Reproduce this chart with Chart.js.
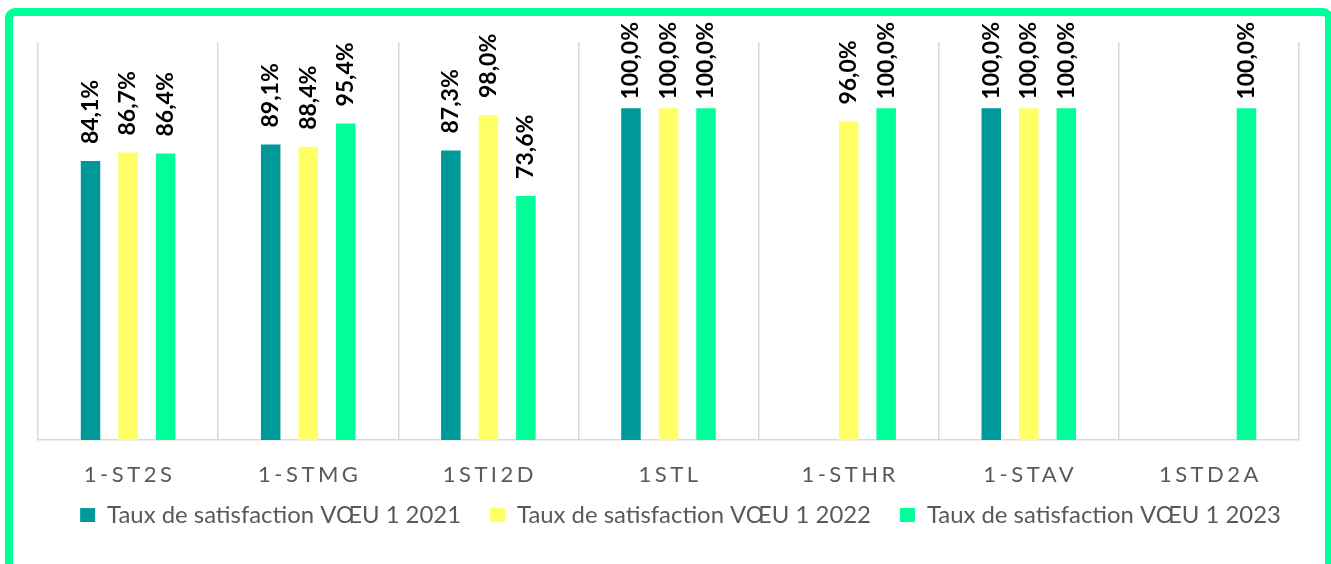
<!DOCTYPE html>
<html>
<head>
<meta charset="utf-8">
<script src="https://cdn.jsdelivr.net/npm/chart.js@4.4.1/dist/chart.umd.min.js"></script>
<style>
  html, body { margin: 0; padding: 0; background: #fff; overflow: hidden; }
  #wrap { width: 1331px; height: 564px; }
</style>
</head>
<body>
<div id="wrap"><canvas id="satChart" width="1331" height="564"></canvas></div>
<script>
// categories + series (percent)
var filieres = ['1-ST2S', '1-STMG', '1STI2D', '1STL', '1-STHR', '1-STAV', '1STD2A'];
var taux2021 = [84.1, 89.1, 87.3, 100, null, 100, null];
var taux2022 = [86.7, 88.4, 98.0, 100, 96.0, 100, null];
var taux2023 = [86.4, 95.4, 73.6, 100, 100, 100, 100];
var serieNames = ['Taux de satisfaction VŒU 1 2021', 'Taux de satisfaction VŒU 1 2022', 'Taux de satisfaction VŒU 1 2023'];
var serieColors = ['#009999', '#FFFF66', '#00FF99'];

var greyTxt = '#595959';

// size legend font so the text is ~354px wide like the original
var mctx = document.createElement('canvas').getContext('2d');
mctx.font = '100px Lato';
var legendSize = Math.round(100 * 354 / mctx.measureText(serieNames[0]).width * 10) / 10;

function fmt(v) {
  return v.toFixed(1).replace('.', ',') + '%';
}

var frame = {
  id: 'frame',
  beforeDraw: function(chart) {
    var c = chart.ctx;
    c.save();
    c.fillStyle = '#fff';
    c.fillRect(0, 0, chart.width, chart.height);
    c.strokeStyle = '#00FF99';
    c.lineWidth = 8;
    c.beginPath();
    c.roundRect(9, 12, 1320, 600, 6);
    c.stroke();
    c.restore();
  },
  afterLayout: function(chart) {
    // nudge legend row to the right like the excel export
    chart.legend.left += 12;
    chart.legend.right += 12;
  }
};

var valueLabels = {
  id: 'valueLabels',
  afterDatasetsDraw: function(chart) {
    var c = chart.ctx;
    c.save();
    c.font = 'bold 23px Lato';
    c.fillStyle = '#000';
    c.textAlign = 'left';
    c.textBaseline = 'middle';
    chart.data.datasets.forEach(function(ds, di) {
      var meta = chart.getDatasetMeta(di);
      meta.data.forEach(function(bar, i) {
        var v = ds.data[i];
        if (v === null) return;
        var txt = fmt(v);
        var w = c.measureText(txt).width;
        var start = bar.y - 17;
        if (start - w < 22) start = 22 + w;
        c.save();
        c.translate(bar.x, start);
        c.rotate(-Math.PI / 2);
        c.fillText(txt, 0, 0);
        c.restore();
      });
    });
    c.restore();
  },
  afterDraw: function(chart) {
    // category labels, spaced out
    var c = chart.ctx;
    var xs = chart.scales.x;
    c.save();
    c.font = '22px Lato';
    c.fillStyle = greyTxt;
    c.textAlign = 'center';
    c.textBaseline = 'middle';
    c.letterSpacing = '3.5px';
    filieres.forEach(function(lab, i) {
      c.fillText(lab, xs.getPixelForValue(i) + 1.5, 475);
    });
    c.restore();
  }
};

var ctx = document.getElementById('satChart').getContext('2d');
var myChart = new Chart(ctx, {
  type: 'bar',
  data: {
    labels: filieres,
    datasets: [
      { label: serieNames[0], data: taux2021, backgroundColor: serieColors[0] },
      { label: serieNames[1], data: taux2022, backgroundColor: serieColors[1] },
      { label: serieNames[2], data: taux2023, backgroundColor: serieColors[2] }
    ]
  },
  options: {
    responsive: false,
    animation: false,
    devicePixelRatio: 1,
    layout: { padding: { top: 42, left: 38, right: 32, bottom: 27 } },
    datasets: {
      bar: { categoryPercentage: 0.625, barPercentage: 0.52 }
    },
    scales: {
      x: {
        ticks: { display: false },
        grid: { color: '#D9D9D9', lineWidth: 1.5, drawTicks: false },
        border: { color: '#D9D9D9', width: 1.5 },
        afterFit: function(scale) { scale.height = 34; }
      },
      y: {
        display: false,
        min: 0,
        max: 120
      }
    },
    plugins: {
      legend: {
        position: 'bottom',
        labels: {
          boxWidth: 15,
          boxHeight: 14,
          padding: 29,
          color: greyTxt,
          font: { family: 'Lato', size: legendSize }
        }
      },
      tooltip: { enabled: false }
    }
  },
  plugins: [frame, valueLabels]
});
</script>
</body>
</html>
